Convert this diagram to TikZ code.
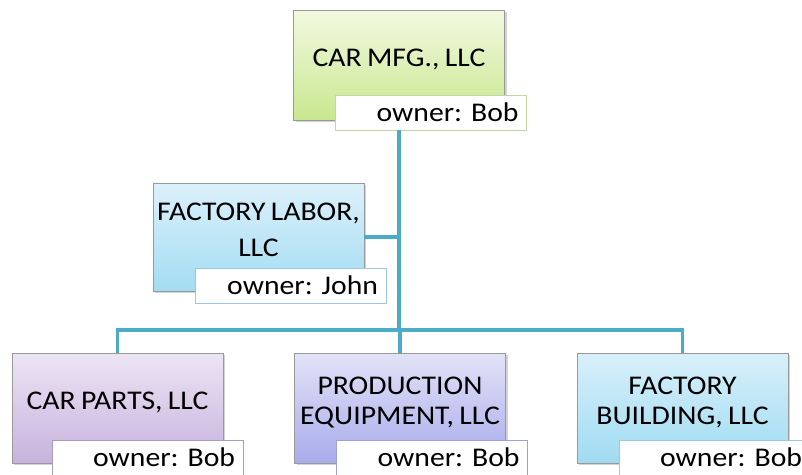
\documentclass[tikz,border=0pt]{standalone}
\usepackage{fontspec}
\setmainfont{Carlito}[FakeStretch=1.1, WordSpace=0.8]
\usepackage{tikz}
\usetikzlibrary{calc,positioning,shadows}
\definecolor{mfgtop}{HTML}{F2F9E0}
\definecolor{mfgbot}{HTML}{C9E78F}
\definecolor{mfgline}{HTML}{C2D6A0}
\definecolor{labortop}{HTML}{DCF1FB}
\definecolor{laborbot}{HTML}{A3DCF3}
\definecolor{laborline}{HTML}{98C9DE}
\definecolor{partstop}{HTML}{ECE4F3}
\definecolor{partsbot}{HTML}{C7B3DE}
\definecolor{partsline}{HTML}{A99BBC}
\definecolor{equiptop}{HTML}{E2E3F7}
\definecolor{equipbot}{HTML}{A8ABEB}
\definecolor{equipline}{HTML}{9EA1D6}
\definecolor{bldgtop}{HTML}{D8F0FA}
\definecolor{bldgbot}{HTML}{A0DBF2}
\definecolor{bldgline}{HTML}{98C9DE}
\definecolor{linkblue}{HTML}{4BACC6}
\tikzset{orgbox/.style={
    rectangle, draw=black!40, line width=0.8pt,
    minimum width=211pt, minimum height=110pt,
    inner xsep=0pt, align=center, text depth=14pt,
    font=\fontsize{27}{30}\selectfont\frenchspacing,
    top color=#1top, bottom color=#1bot,
    drop shadow={shadow xshift=2pt, shadow yshift=-2pt, opacity=.35}
  },
  ownerbox/.style={
    rectangle, draw=#1line, line width=0.8pt, fill=white,
    minimum height=35pt, text width=175pt, inner xsep=8pt,
    align=right, anchor=south east,
    font=\fontsize{27}{30}\selectfont\frenchspacing
  },
  link/.style={draw=linkblue, line width=3.5pt}
}

\begin{document}
\begin{tikzpicture}[x=1pt,y=-1pt]
    \useasboundingbox (0,0) rectangle (802,474);
    % connectors
    \coordinate (bus) at (400,330);
    % top
    \node[orgbox=mfg] (mfg) at (399,65) {CAR MFG., LLC};
    \node[ownerbox=mfg] (mfgown) at ([shift={(22,10)}]mfg.south east) {owner: Bob};
    % side
    \node[orgbox=labor, minimum height=108pt] (labor) at (258.5,237) {FACTORY LABOR,\\[6pt] LLC};
    \node[ownerbox=labor] (laborown) at ([shift={(22,12)}]labor.south east) {owner: John};
    % bottom row
    \node[orgbox=parts] (parts) at (117.5,408) {CAR PARTS, LLC};
    \node[ownerbox=parts] (partsown) at ([shift={(20,12)}]parts.south east) {owner: Bob};
    \node[orgbox=equip] (equip) at (400,408) {PRODUCTION\\ EQUIPMENT, LLC};
    \node[ownerbox=equip] (equipown) at ([shift={(22,12)}]equip.south east) {owner: Bob};
    \node[orgbox=bldg] (bldg) at (682.5,408) {FACTORY\\ BUILDING, LLC};
    \node[ownerbox=bldg] (bldgown) at ([shift={(22,12)}]bldg.south east) {owner: Bob};
    % lines
    \draw[link] (mfg.south |- mfgown.south) -- (mfg.south |- bus);
    \draw[link] (labor.east) -- (labor.east -| bus);
    \draw[link] (parts.north) -- (parts.north |- bus) -- (bldg.north |- bus) -- (bldg.north);
    \draw[link] (equip.north) -- (bus);
\end{tikzpicture}
\end{document}
